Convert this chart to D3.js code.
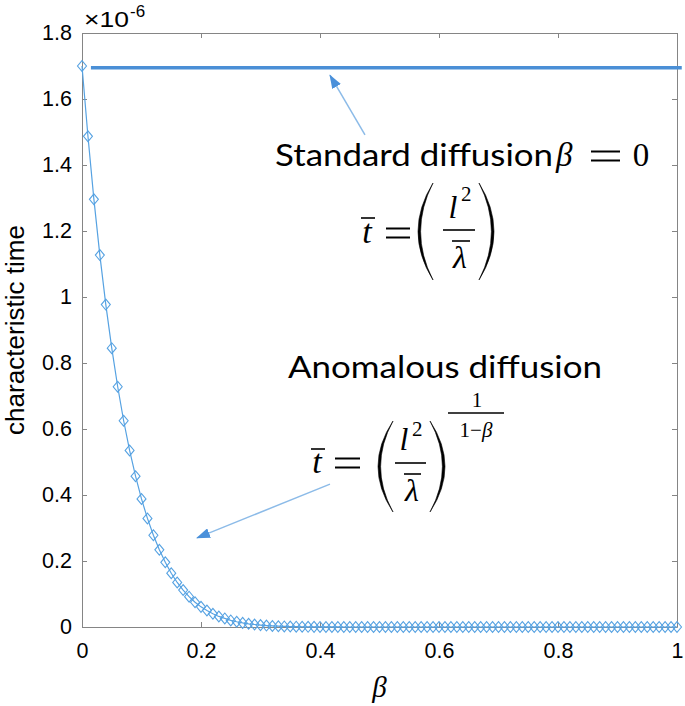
<!DOCTYPE html>
<html>
<head>
<meta charset="utf-8">
<script src="https://cdn.jsdelivr.net/npm/d3@7"></script>
<style>
  body { margin: 0; background: #fff; }
  svg text { fill: #000; }
</style>
</head>
<body>
<div id="chart"></div>
<script>
// beta values (0 .. 1, step 0.01)
var betaValues = d3.range(0, 101).map(function (i) { return i / 100; });
// characteristic time, x 1e-6
var timeValues = [
  1.700, 1.487, 1.296, 1.127, 0.977, 0.845, 0.728, 0.625, 0.535, 0.457,
  0.388, 0.329, 0.278, 0.234, 0.196, 0.163, 0.135, 0.112, 0.092, 0.075,
  0.061, 0.050, 0.040, 0.032, 0.026, 0.020, 0.016, 0.0125, 0.0097, 0.0075,
  0.0057, 0.0043, 0.0032, 0.0024, 0.0018, 0.0013, 0.0010, 0.0007, 0.0005, 0.0004,
  0.0003, 0.0002, 0.0001, 0.0001, 0, 0, 0, 0, 0, 0,
  0, 0, 0, 0, 0, 0, 0, 0, 0, 0,
  0, 0, 0, 0, 0, 0, 0, 0, 0, 0,
  0, 0, 0, 0, 0, 0, 0, 0, 0, 0,
  0, 0, 0, 0, 0, 0, 0, 0, 0, 0,
  0, 0, 0, 0, 0, 0, 0, 0, 0, 0,
  0
];
// standard diffusion level (beta = 0)
var standardBeta = [0.015, 1.008];
var standardTime = [1.695, 1.695];

var xTicks = [0, 0.2, 0.4, 0.6, 0.8, 1];
var xTickLabels = ["0", "0.2", "0.4", "0.6", "0.8", "1"];
var yTicks = [0, 0.2, 0.4, 0.6, 0.8, 1, 1.2, 1.4, 1.6, 1.8];
var yTickLabels = ["0", "0.2", "0.4", "0.6", "0.8", "1", "1.2", "1.4", "1.6", "1.8"];

// arrow annotations, [beta, time] from tail to tip
var arrowStandard = [[0.4756, 1.491], [0.4168, 1.672]];
var arrowAnomalous = [[0.4168, 0.433], [0.1933, 0.270]];

var width = 685, height = 706;
var plotLeft = 82, plotRight = 677, plotTop = 33, plotBottom = 627;
var blue = "#56a2e2";

var svg = d3.select("#chart").append("svg")
  .attr("width", width)
  .attr("height", height)
  .style("font-family", "'Liberation Sans', Arial, sans-serif");

var x = d3.scaleLinear().domain([0, 1]).range([plotLeft, plotRight]);
var y = d3.scaleLinear().domain([0, 1.8]).range([plotBottom, plotTop]);

var axisColor = "#858585";
function styleAxis(g) {
  g.selectAll("path, line").attr("stroke", axisColor);
  g.selectAll("text").attr("fill", "#000")
    .attr("font-size", 21.5)
    .attr("font-family", "'Liberation Sans', Arial, sans-serif");
}

svg.append("g").attr("transform", "translate(0," + plotBottom + ")")
  .call(d3.axisBottom(x).tickValues(xTicks)
    .tickFormat(function (d, i) { return xTickLabels[i]; })
    .tickSizeInner(-5).tickSizeOuter(0).tickPadding(16))
  .call(styleAxis);
svg.append("g").attr("transform", "translate(0," + plotTop + ")")
  .call(d3.axisTop(x).tickValues(xTicks).tickFormat("")
    .tickSizeInner(-5).tickSizeOuter(0))
  .call(styleAxis);
svg.append("g").attr("transform", "translate(" + plotLeft + ",0)")
  .call(d3.axisLeft(y).tickValues(yTicks)
    .tickFormat(function (d, i) { return yTickLabels[i]; })
    .tickSizeInner(-5).tickSizeOuter(0).tickPadding(10))
  .call(styleAxis);
svg.append("g").attr("transform", "translate(" + plotRight + ",0)")
  .call(d3.axisRight(y).tickValues(yTicks).tickFormat("")
    .tickSizeInner(-5).tickSizeOuter(0))
  .call(styleAxis);

// exponent label
svg.append("text").attr("x", 84).attr("y", 27)
  .attr("font-size", 22).attr("textLength", 45).attr("lengthAdjust", "spacingAndGlyphs")
  .text("\u00d710");
svg.append("text").attr("x", 130).attr("y", 17)
  .attr("font-size", 17)
  .text("-6");

// axis titles
svg.append("text")
  .attr("transform", "translate(24," + (plotTop + plotBottom) / 2 + ") rotate(-90)")
  .attr("text-anchor", "middle")
  .style("font-size", "25px")
  .attr("textLength", 210)
  .attr("lengthAdjust", "spacingAndGlyphs")
  .text("characteristic time");
svg.append("text")
  .attr("x", (plotLeft + plotRight) / 2).attr("y", 697)
  .attr("text-anchor", "middle")
  .style("font-family", "'Liberation Serif', serif")
  .style("font-style", "italic")
  .style("font-size", "29px")
  .text("\u03b2");

// standard diffusion line
var stdData = standardBeta.map(function (b, i) { return [b, standardTime[i]]; });
svg.append("path")
  .datum(stdData)
  .attr("fill", "none")
  .attr("stroke", "#4a8fd6")
  .attr("stroke-width", 3.5)
  .attr("d", d3.line().x(function (d) { return x(d[0]); }).y(function (d) { return y(d[1]); }));

// anomalous curve + diamond markers
var curve = betaValues.map(function (b, i) { return [b, timeValues[i]]; });
svg.append("path")
  .datum(curve)
  .attr("fill", "none")
  .attr("stroke", blue)
  .attr("stroke-width", 1.2)
  .attr("d", d3.line().x(function (d) { return x(d[0]); }).y(function (d) { return y(d[1]); }));

svg.append("g").selectAll("path")
  .data(curve)
  .enter().append("path")
  .attr("transform", function (d) { return "translate(" + x(d[0]) + "," + y(d[1]) + ")"; })
  .attr("d", "M0,-5.4L4.5,0L0,5.4L-4.5,0Z")
  .attr("fill", "none")
  .attr("stroke", blue)
  .attr("stroke-width", 1.1);

// arrows
var defs = svg.append("defs");
defs.append("marker")
  .attr("id", "head")
  .attr("viewBox", "0 0 14 10")
  .attr("refX", 13).attr("refY", 5)
  .attr("markerWidth", 14).attr("markerHeight", 10)
  .attr("markerUnits", "userSpaceOnUse")
  .attr("orient", "auto")
  .append("path").attr("d", "M0,0L14,5L0,10Z").attr("fill", "#4a90da");

[arrowStandard, arrowAnomalous].forEach(function (a) {
  svg.append("line")
    .attr("x1", x(a[0][0])).attr("y1", y(a[0][1]))
    .attr("x2", x(a[1][0])).attr("y2", y(a[1][1]))
    .attr("stroke", "#8cbbe8")
    .attr("stroke-width", 1.5)
    .attr("marker-end", "url(#head)");
});

// annotation text
var textFont = "Lato, 'Open Sans', sans-serif";
var mathFont = "'Liberation Serif', 'DejaVu Serif', serif";

function label(str, px, py, size, opts) {
  opts = opts || {};
  var t = svg.append("text")
    .attr("x", px).attr("y", py)
    .attr("text-anchor", opts.anchor || "start")
    .style("font-family", opts.font || mathFont)
    .style("font-style", opts.italic ? "italic" : "normal")
    .style("font-size", size + "px")
    .text(str);
  if (opts.length) t.attr("textLength", opts.length).attr("lengthAdjust", "spacingAndGlyphs");
  return t;
}
function bar(x1, x2, yy, w) {
  svg.append("line").attr("x1", x1).attr("x2", x2).attr("y1", yy).attr("y2", yy)
    .attr("stroke", "#000").attr("stroke-width", w || 1.6);
}
function equals(x1, x2, yy) {
  bar(x1, x2, yy - 4.5, 2);
  bar(x1, x2, yy + 4.5, 2);
}
function paren(xEdge, xMid, y1, y2) {
  // filled crescent shaped bracket
  var ym = (y1 + y2) / 2;
  var t = xEdge < xMid ? 2.6 : -2.6;
  var c1 = 2 * xEdge - xMid;
  var c2 = 2 * (xEdge + t) - xMid;
  svg.append("path")
    .attr("d", "M" + xMid + "," + y1 + "Q" + c1 + "," + ym + " " + xMid + "," + y2 +
      "Q" + c2 + "," + ym + " " + xMid + "," + y1 + "Z")
    .attr("fill", "#000").attr("stroke", "#000").attr("stroke-width", 0.6);
}

// standard diffusion block
label("Standard diffusion", 275, 166, 31, { font: textFont, length: 278 });
label("\u03b2", 556, 166, 33, { italic: true });
equals(591, 620, 156);
label("0", 641, 166, 33, { anchor: "middle" });

label("t", 367, 243, 34, { italic: true, anchor: "middle" });
bar(361, 375, 218);
equals(386, 410, 233);
paren(418, 433, 183, 280);
label("l", 453, 218, 32, { italic: true, anchor: "middle" });
label("2", 461, 201, 21, { anchor: "start" });
bar(443, 475, 230);
label("\u03bb", 460, 268, 32, { italic: true, anchor: "middle" });
bar(452, 470, 241);
paren(494, 479, 183, 280);

// anomalous diffusion block
label("Anomalous diffusion", 288, 378, 31, { font: textFont, length: 314 });

label("t", 317, 473, 34, { italic: true, anchor: "middle" });
bar(311, 325, 449);
equals(335, 360, 463);
paren(378, 393, 421, 512);
label("l", 404, 450, 32, { italic: true, anchor: "middle" });
label("2", 412, 436, 21, { anchor: "start" });
bar(395, 426, 463);
label("\u03bb", 412, 501, 32, { italic: true, anchor: "middle" });
bar(404, 421, 474);
paren(445, 430, 421, 512);

label("1", 477, 407, 21, { anchor: "middle" });
bar(448, 504, 413, 1.4);
var den = label("", 476, 437, 21, { anchor: "middle" });
den.append("tspan").text("1\u2212");
den.append("tspan").style("font-style", "italic").text("\u03b2");
</script>
</body>
</html>
